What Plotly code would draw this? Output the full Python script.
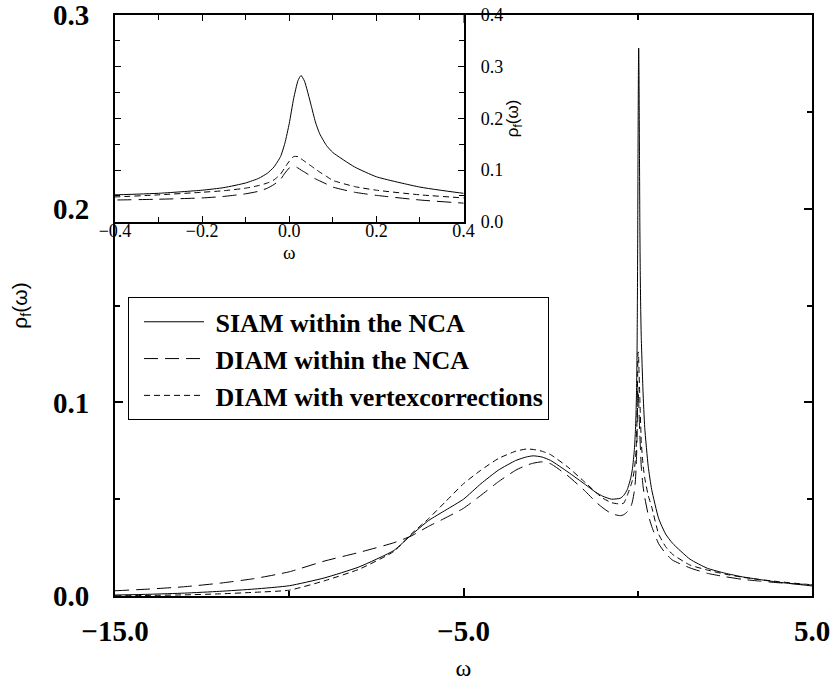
import plotly.graph_objects as go

# ---------------- data ----------------
omega = [-15, -14, -13, -12, -11, -10, -9, -8, -7, -6.5, -6, -5.5, -5, -4.5, -4, -3.5, -3.2, -3,
         -2.75, -2.5, -2, -1.5, -1.2, -1, -0.75, -0.5,
         -0.4, -0.3, -0.2, -0.15, -0.1, -0.07, -0.05, -0.035, -0.02, -0.01, 0,
         0.01, 0.02, 0.027, 0.035, 0.05, 0.06, 0.07, 0.085, 0.1, 0.15, 0.2, 0.3, 0.4,
         0.6, 0.8, 1.0, 1.5, 2, 2.5, 3, 3.5, 4, 4.5, 5]

siam_nca = [0.0005, 0.0009, 0.0015, 0.0024, 0.0036, 0.0053, 0.0093, 0.0150, 0.0235, 0.0315, 0.0390, 0.0445,
            0.0500, 0.0580, 0.0650, 0.0700, 0.0718, 0.0724, 0.0718, 0.0700, 0.0640, 0.0575, 0.0535, 0.0515,
            0.0500, 0.0505,
            0.052, 0.055, 0.061, 0.066, 0.075, 0.084, 0.094, 0.106, 0.126, 0.152, 0.190,
            0.238, 0.273, 0.283, 0.272, 0.226, 0.193, 0.170, 0.148, 0.134, 0.106, 0.087, 0.067, 0.055,
            0.040, 0.032, 0.0272, 0.0190, 0.0143, 0.0118, 0.0099, 0.0085, 0.0072, 0.0062, 0.0052]

diam_nca = [0.0027, 0.0036, 0.0048, 0.0066, 0.0090, 0.0125, 0.0180, 0.0225, 0.0275, 0.0310, 0.0360, 0.0405,
            0.0453, 0.0520, 0.0590, 0.0650, 0.0675, 0.0686, 0.0693, 0.0683, 0.0620, 0.0540, 0.0485, 0.0455,
            0.0425, 0.0415,
            0.042, 0.0435, 0.046, 0.049, 0.054, 0.059, 0.065, 0.072, 0.082, 0.094, 0.104,
            0.108, 0.104, 0.100, 0.096, 0.088, 0.083, 0.079, 0.073, 0.067, 0.057, 0.051, 0.042, 0.036,
            0.027, 0.022, 0.0185, 0.0145, 0.0117, 0.0100, 0.0086, 0.0077, 0.0069, 0.0063, 0.0058]

diam_vertex = [0.0001, 0.0003, 0.0006, 0.0011, 0.0019, 0.0030, 0.0078, 0.0138, 0.0230, 0.0320, 0.0400, 0.0490,
               0.0580, 0.0650, 0.0710, 0.0748, 0.0759, 0.0757, 0.0748, 0.0730, 0.0665, 0.0585, 0.0535, 0.0505,
               0.0482, 0.0475,
               0.048, 0.052, 0.057, 0.060, 0.065, 0.070, 0.075, 0.081, 0.092, 0.105, 0.117,
               0.126, 0.126, 0.122, 0.117, 0.108, 0.102, 0.096, 0.088, 0.080, 0.068, 0.061, 0.052, 0.046,
               0.032, 0.0255, 0.0215, 0.0160, 0.0134, 0.0113, 0.0097, 0.0085, 0.0075, 0.0066, 0.0058]

series_names = ["\u00a0SIAM within the NCA", "\u00a0DIAM within the NCA", "\u00a0DIAM with vertexcorrections"]
series_values = [siam_nca, diam_nca, diam_vertex]
series_dash = ["solid", "14px,7px", "6px,4px"]

main_xticks = [-15, -5, 5]
main_yticks = [0.0, 0.1, 0.2, 0.3]
inset_xticks = [-0.4, -0.2, 0.0, 0.2, 0.4]
inset_yticks = [0.0, 0.1, 0.2, 0.3, 0.4]

SERIF = "Liberation Serif, Times New Roman, serif"
SANS = "Liberation Sans, Arial, sans-serif"

fig = go.Figure()

for name, vals, dash in zip(series_names, series_values, series_dash):
    fig.add_trace(go.Scatter(x=omega, y=vals, mode="lines", name=name,
                             line=dict(color="black", width=1, dash=dash, shape="spline", smoothing=0.5),
                             xaxis="x", yaxis="y", showlegend=True))
for name, vals, dash in zip(series_names, series_values, series_dash):
    fig.add_trace(go.Scatter(x=omega, y=vals, mode="lines", name=name,
                             line=dict(color="black", width=1, dash=dash, shape="spline", smoothing=0.5),
                             xaxis="x2", yaxis="y2", showlegend=False))

fig.update_layout(
    width=834, height=681,
    margin=dict(l=115, r=22, t=15, b=85),
    paper_bgcolor="white", plot_bgcolor="white",
    template="none",
    showlegend=True,
    legend=dict(x=0.0187, y=0.514, xanchor="left", yanchor="top",
                bordercolor="black", borderwidth=1, bgcolor="white",
                font=dict(family=SERIF, size=26, color="black", weight="bold"),
                itemwidth=60, indentation=10, tracegroupgap=0),
    xaxis=dict(domain=[0, 1], anchor="y", range=[-15, 5],
               tickvals=main_xticks, tickformat=".1f",
               ticks="inside", ticklen=8, tickwidth=1.5, tickcolor="black",
               minor=dict(dtick=5, tick0=0, ticks="inside", ticklen=5, tickwidth=1.5, tickcolor="black"),
               showline=True, linewidth=2, linecolor="black", mirror="ticks",
               showgrid=False, zeroline=False,
               tickfont=dict(family=SERIF, size=29, color="black", weight="bold"),
               ticklabelstandoff=8,
               title=dict(text="ω", font=dict(family=SERIF, size=24, color="black"), standoff=14)),
    yaxis=dict(domain=[0, 1], anchor="x", range=[0, 0.3001],
               tickvals=main_yticks, tickformat=".1f",
               ticks="inside", ticklen=8, tickwidth=1.5, tickcolor="black",
               minor=dict(dtick=0.05, tick0=0, ticks="inside", ticklen=5, tickwidth=1.5, tickcolor="black"),
               showline=True, linewidth=2, linecolor="black", mirror="ticks",
               showgrid=False, zeroline=False,
               tickfont=dict(family=SERIF, size=29, color="black", weight="bold"),
               ticklabelstandoff=18, ticklabeloverflow="allow",
               title=dict(text="ρ<sub>f</sub>(ω)", font=dict(family=SANS, size=21, color="black"), standoff=20)),
    xaxis2=dict(domain=[0, 0.5], anchor="y2", range=[-0.4, 0.4],
                tickvals=inset_xticks, tickformat=".1f",
                ticks="inside", ticklen=6, tickwidth=1, tickcolor="black",
                minor=dict(dtick=0.1, tick0=0, ticks="inside", ticklen=5, tickwidth=1, tickcolor="black"),
                showline=True, linewidth=1.5, linecolor="black", mirror="ticks",
                showgrid=False, zeroline=False,
                tickfont=dict(family=SERIF, size=18, color="black"),
                ticklabelstandoff=-8,
                title=dict(text="ω", font=dict(family=SERIF, size=19, color="black"), standoff=6)),
    yaxis2=dict(domain=[0.6442, 1], anchor="x2", range=[0, 0.4], side="right",
                tickvals=inset_yticks, tickformat=".1f",
                ticks="inside", ticklen=6, tickwidth=1, tickcolor="black",
                minor=dict(dtick=0.05, tick0=0, ticks="inside", ticklen=5, tickwidth=1, tickcolor="black"),
                showline=True, linewidth=1.5, linecolor="black", mirror="ticks",
                showgrid=False, zeroline=False,
                tickfont=dict(family=SERIF, size=18, color="black"),
                ticklabelstandoff=12,
                title=dict(text="ρ<sub>f</sub>(ω)", font=dict(family=SANS, size=17, color="black"), standoff=0)),
)

fig.write_html("out.html")
